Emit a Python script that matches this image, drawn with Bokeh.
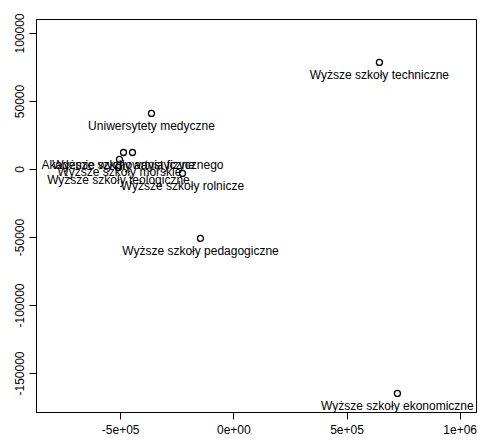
from bokeh.plotting import figure
from bokeh.models import ColumnDataSource, Range1d, FixedTicker
from bokeh.embed import file_html
from bokeh.resources import INLINE
from bokeh.core.properties import value

# ---- data ----
names = [
    "Wyższe szkoły techniczne",
    "Uniwersytety medyczne",
    "Wyższe szkoły pedagogiczne",
    "Wyższe szkoły ekonomiczne",
    "Akademie wychowania fizycznego",
    "Wyższe szkoły artystyczne",
    "Wyższe szkoły morskie",
    "Wyższe szkoły teologiczne",
    "Wyższe szkoły rolnicze",
]
x_vals = [643000, -364000, -147500, 722600, -447900, -487600, -505300, -510000, -227000]
y_vals = [78700, 41200, -50700, -164700, 12500, 12500, 7400, 1500, -2900]

x_ticks = [-500000, 0, 500000, 1000000]
x_tick_labels = ["-5e+05", "0e+00", "5e+05", "1e+06"]
y_ticks = [-150000, -100000, -50000, 0, 50000, 100000]
y_tick_labels = ["-150000", "-100000", "-50000", "0", "50000", "100000"]

FONT = "Liberation Sans"

p = figure(
    width=479, height=442,
    x_range=Range1d(-872000, 1072000),
    y_range=Range1d(-178700, 110300),
    output_backend="svg", toolbar_location=None,
    min_border_left=36, min_border_right=3,
    min_border_top=19, min_border_bottom=30,
)
p.grid.visible = False
p.background_fill_color = "white"
p.border_fill_color = "white"
p.outline_line_color = "black"
p.outline_line_width = 1

src = ColumnDataSource(dict(x=x_vals, y=y_vals, name=names))

p.scatter("x", "y", source=src, marker="circle", size=6,
          fill_color=None, line_color="black", line_width=1.3)
p.text("x", "y", text="name", source=src, text_align="center",
       text_baseline="top", y_offset=6, text_font=value(FONT),
       text_font_size="12px", text_color="black")

for ax in (p.xaxis[0], p.yaxis[0]):
    ax.axis_line_color = "black"
    ax.major_tick_line_color = "black"
    ax.major_tick_out = 7
    ax.major_tick_in = 0
    ax.minor_tick_line_color = None
    ax.major_label_text_font = FONT
    ax.major_label_text_font_size = "12px"
    ax.major_label_text_color = "black"
    ax.major_label_standoff = 5

p.xaxis[0].ticker = FixedTicker(ticks=x_ticks)
p.xaxis[0].major_label_overrides = {t: l for t, l in zip(x_ticks, x_tick_labels)}
p.yaxis[0].ticker = FixedTicker(ticks=y_ticks)
p.yaxis[0].major_label_overrides = {t: l for t, l in zip(y_ticks, y_tick_labels)}
p.yaxis[0].major_label_orientation = "vertical"

open("out.html", "w").write(file_html(p, INLINE))
